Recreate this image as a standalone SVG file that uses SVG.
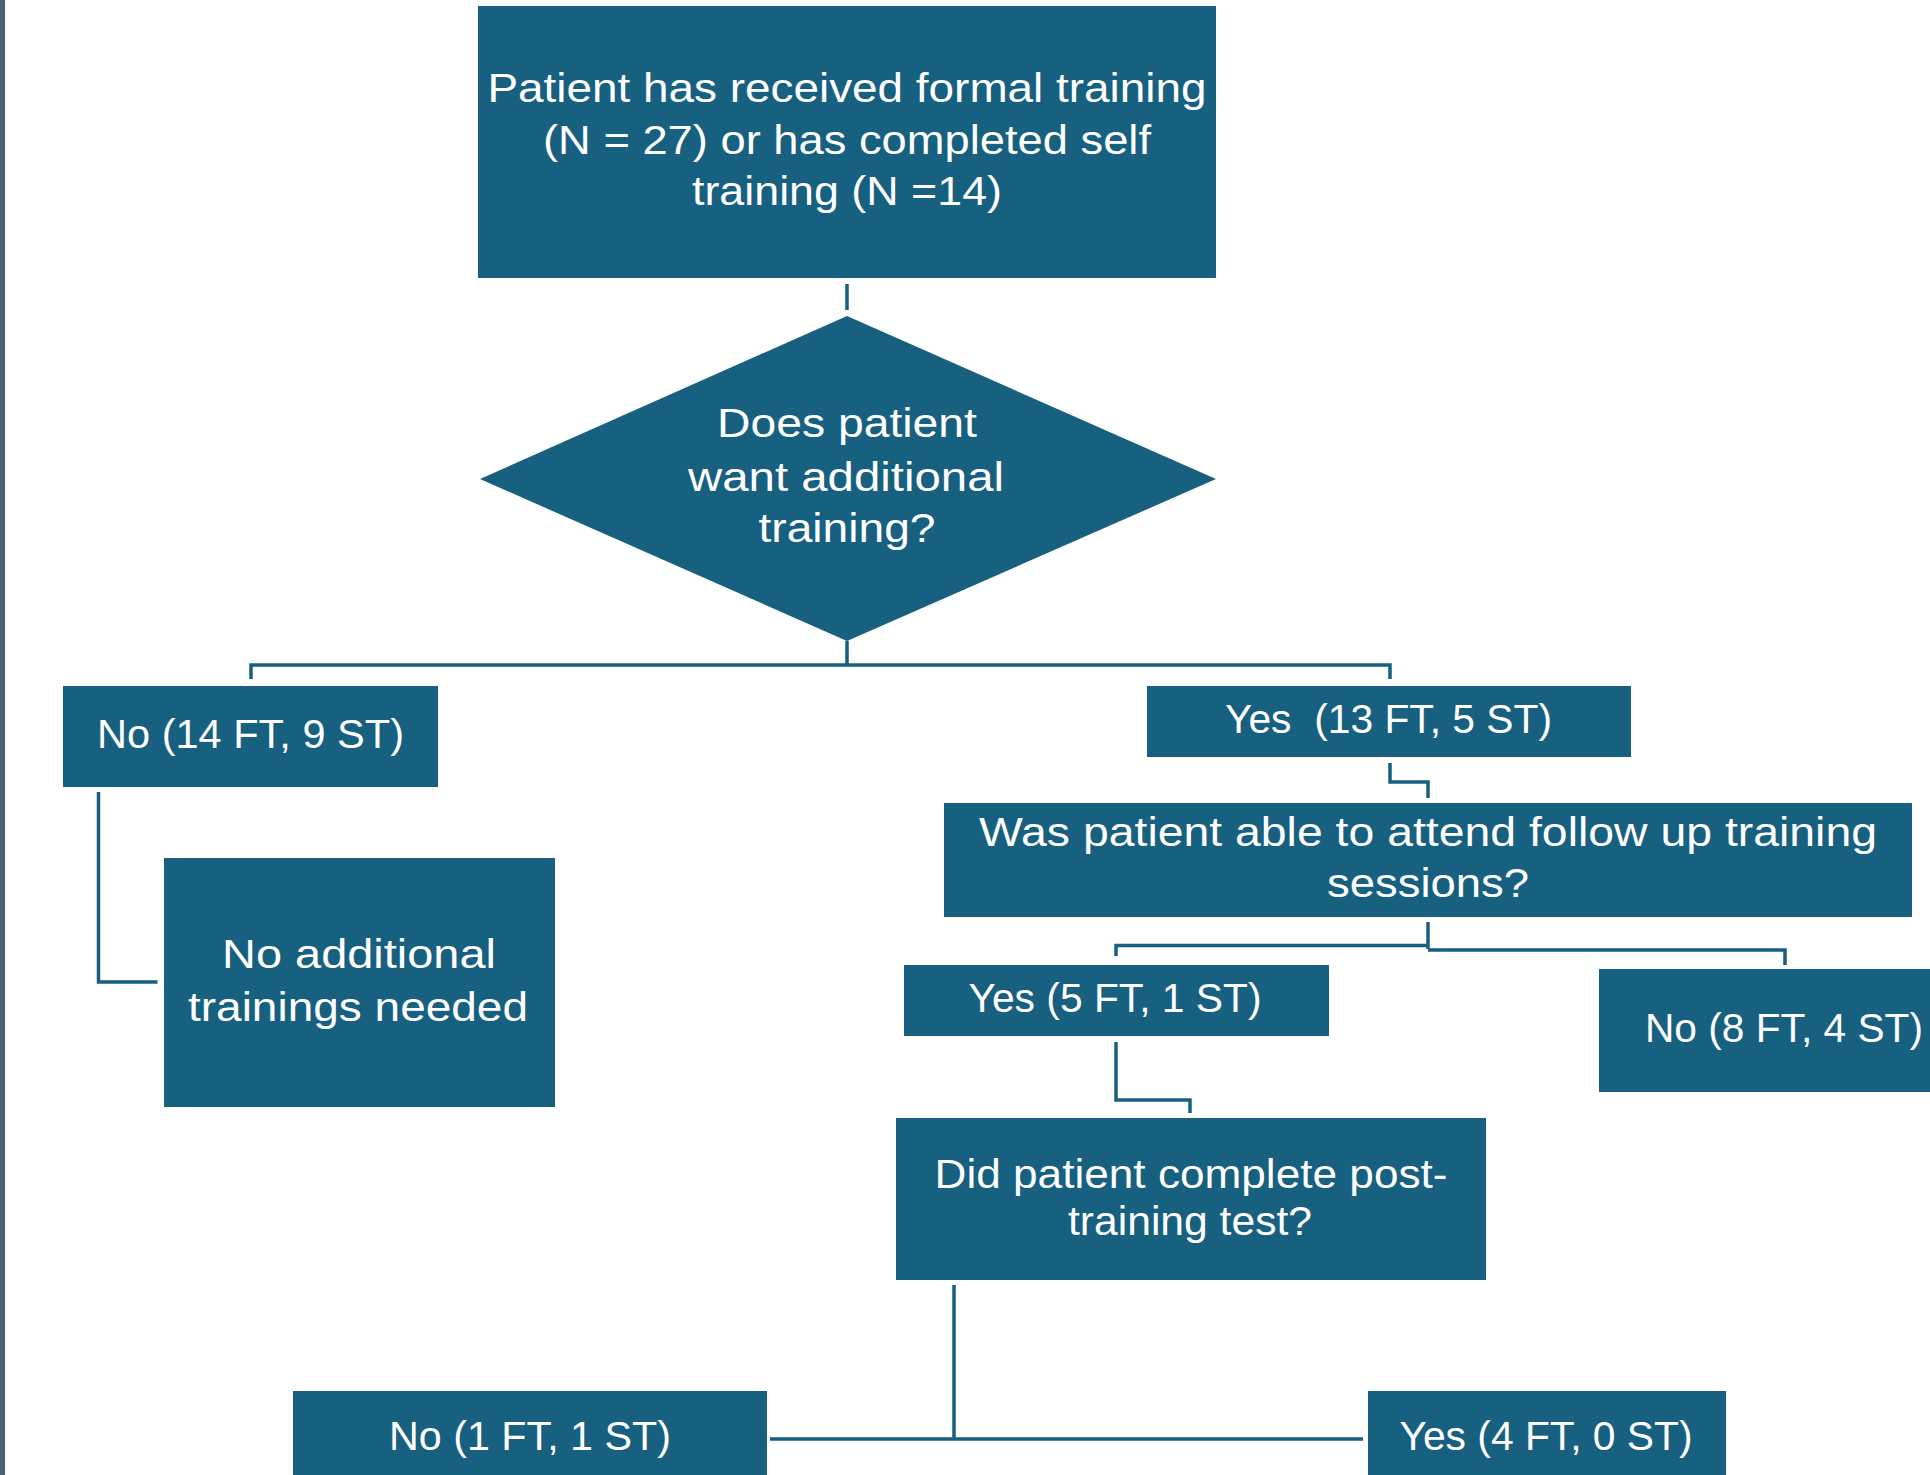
<svg xmlns="http://www.w3.org/2000/svg" width="1930" height="1475" viewBox="0 0 1930 1475">
<style>
.box{fill:#17607f;}
.t{font-family:"Liberation Sans",Arial,sans-serif;font-size:41px;fill:#ffffff;text-anchor:middle;}
.c{fill:none;stroke:#17607f;stroke-width:3.5;}
</style>
<rect x="0" y="0" width="1930" height="1475" fill="#ffffff"/>
<rect x="0" y="0" width="5" height="1475" fill="#4a6272"/>
<g id="connectors">
<path class="c" d="M847 284 V310"/>
<path class="c" d="M847 641 V665 M251 679 V665 H1390 V679"/>
<path class="c" d="M98.5 792 V982 H157.5"/>
<path class="c" d="M1390 763 V782 H1428 V798"/>
<path class="c" d="M1428 922 V949 M1116 956 V945.5 H1428 M1428 950 H1785 V965"/>
<path class="c" d="M1116 1042 V1100 H1190 V1113"/>
<path class="c" d="M954 1285 V1439 M770 1439 H1363"/>
</g>
<g id="start">
<rect class="box" x="478" y="6" width="738" height="272"/>
<text class="t" x="847" y="102" textLength="719" lengthAdjust="spacingAndGlyphs">Patient has received formal training</text>
<text class="t" x="847" y="154" textLength="608" lengthAdjust="spacingAndGlyphs">(N = 27) or has completed self</text>
<text class="t" x="847" y="205" textLength="310" lengthAdjust="spacingAndGlyphs">training (N =14)</text>
</g>
<g id="decision1">
<polygon class="box" points="847,316 1216,479 847,641 480,479"/>
<text class="t" x="847" y="437" textLength="260" lengthAdjust="spacingAndGlyphs">Does patient</text>
<text class="t" x="846" y="491" textLength="316" lengthAdjust="spacingAndGlyphs">want additional</text>
<text class="t" x="847" y="542" textLength="177" lengthAdjust="spacingAndGlyphs">training?</text>
</g>
<g id="no1">
<rect class="box" x="63" y="686" width="375" height="101"/>
<text class="t" x="250.5" y="748" textLength="307" lengthAdjust="spacingAndGlyphs">No (14 FT, 9 ST)</text>
</g>
<g id="noadd">
<rect class="box" x="164" y="858" width="391" height="249"/>
<text class="t" x="359" y="968" textLength="274" lengthAdjust="spacingAndGlyphs">No additional</text>
<text class="t" x="358" y="1021" textLength="340" lengthAdjust="spacingAndGlyphs">trainings needed</text>
</g>
<g id="yes1">
<rect class="box" x="1147" y="686" width="484" height="71"/>
<text class="t" x="1388.5" y="733" textLength="327" lengthAdjust="spacingAndGlyphs" xml:space="preserve">Yes  (13 FT, 5 ST)</text>
</g>
<g id="attend">
<rect class="box" x="944" y="803" width="968" height="114"/>
<text class="t" x="1428" y="846" textLength="898" lengthAdjust="spacingAndGlyphs">Was patient able to attend follow up training</text>
<text class="t" x="1428" y="897" textLength="202" lengthAdjust="spacingAndGlyphs">sessions?</text>
</g>
<g id="yes2">
<rect class="box" x="904" y="965" width="425" height="71"/>
<text class="t" x="1115" y="1012" textLength="293" lengthAdjust="spacingAndGlyphs">Yes (5 FT, 1 ST)</text>
</g>
<g id="no2">
<rect class="box" x="1599" y="969" width="370" height="123"/>
<text class="t" x="1784" y="1042" textLength="278" lengthAdjust="spacingAndGlyphs">No (8 FT, 4 ST)</text>
</g>
<g id="posttest">
<rect class="box" x="896" y="1118" width="590" height="162"/>
<text class="t" x="1191" y="1188" textLength="513" lengthAdjust="spacingAndGlyphs">Did patient complete post-</text>
<text class="t" x="1190" y="1235" textLength="244" lengthAdjust="spacingAndGlyphs">training test?</text>
</g>
<g id="no3">
<rect class="box" x="293" y="1391" width="474" height="90"/>
<text class="t" x="530" y="1450" textLength="282" lengthAdjust="spacingAndGlyphs">No (1 FT, 1 ST)</text>
</g>
<g id="yes3">
<rect class="box" x="1368" y="1391" width="358" height="90"/>
<text class="t" x="1546" y="1450" textLength="293" lengthAdjust="spacingAndGlyphs">Yes (4 FT, 0 ST)</text>
</g>
</svg>
